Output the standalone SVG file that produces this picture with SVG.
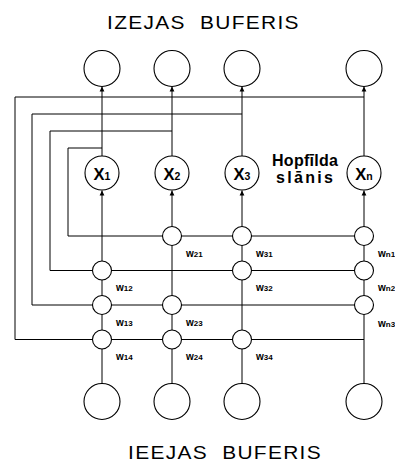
<svg xmlns="http://www.w3.org/2000/svg" width="395" height="462" viewBox="0 0 395 462">
<style>
.ln{fill:none;stroke:#000;stroke-width:1}
.nd{fill:#fff;stroke:#000;stroke-width:1.1}
.title{font-family:"Liberation Sans",Arial,sans-serif;font-size:19px;letter-spacing:1.2px;fill:#000}
.xl{font-family:"Liberation Sans",Arial,sans-serif;font-weight:bold;font-size:16.5px;fill:#000}
.xs{font-size:10.5px}
.wl{font-family:"Liberation Sans",Arial,sans-serif;font-weight:bold;font-size:10px;fill:#000}
.ws{font-size:8px}
.hl{font-family:"Liberation Sans",Arial,sans-serif;font-weight:bold;font-size:16px;fill:#000}
</style>
<defs>
<marker id="arr" markerUnits="userSpaceOnUse" markerWidth="6" markerHeight="6" refX="5" refY="3" orient="auto">
<path d="M0,0.6 L5,3 L0,5.4 Z" fill="#000"/>
</marker>
</defs>
<rect width="395" height="462" fill="#fff"/>
<text class="title" transform="translate(107,29) scale(1.1,1)" x="0" y="0" xml:space="preserve">IZEJAS  BUFERIS</text>
<text class="title" transform="translate(128,458.5) scale(1.1,1)" x="0" y="0" xml:space="preserve">IEEJAS  BUFERIS</text>

<g id="connectors">
<line class="ln" x1="102" y1="383.5" x2="102" y2="190.5" marker-end="url(#arr)"/>
<line class="ln" x1="102" y1="156" x2="102" y2="86.5" marker-end="url(#arr)"/>
<line class="ln" x1="172" y1="383.5" x2="172" y2="190.5" marker-end="url(#arr)"/>
<line class="ln" x1="172" y1="156" x2="172" y2="86.5" marker-end="url(#arr)"/>
<line class="ln" x1="242" y1="383.5" x2="242" y2="190.5" marker-end="url(#arr)"/>
<line class="ln" x1="242" y1="156" x2="242" y2="86.5" marker-end="url(#arr)"/>
<line class="ln" x1="364" y1="383.5" x2="364" y2="190.5" marker-end="url(#arr)"/>
<line class="ln" x1="364" y1="156" x2="364" y2="86.5" marker-end="url(#arr)"/>
<polyline class="ln" points="102,148 68,148 68,236 364,236"/>
<polyline class="ln" points="172,131 50,131 50,270.5 364,270.5"/>
<polyline class="ln" points="242,114 32,114 32,305 364,305"/>
<polyline class="ln" points="364,97 15,97 15,339.5 364,339.5"/>
</g>

<g id="out1"><circle class="nd" cx="102" cy="68.5" r="18"/></g>
<g id="out2"><circle class="nd" cx="172" cy="68.5" r="18"/></g>
<g id="out3"><circle class="nd" cx="242" cy="68.5" r="18"/></g>
<g id="outn"><circle class="nd" cx="364" cy="68.5" r="18"/></g>

<g id="in1"><circle class="nd" cx="102" cy="401.5" r="18"/></g>
<g id="in2"><circle class="nd" cx="172" cy="401.5" r="18"/></g>
<g id="in3"><circle class="nd" cx="242" cy="401.5" r="18"/></g>
<g id="inn"><circle class="nd" cx="364" cy="401.5" r="18"/></g>

<g id="x1"><circle class="nd" cx="102" cy="173" r="17"/><text class="xl" x="102" y="179.5" text-anchor="middle">X<tspan class="xs">1</tspan></text></g>
<g id="x2"><circle class="nd" cx="172" cy="173" r="17"/><text class="xl" x="172" y="179.5" text-anchor="middle">X<tspan class="xs">2</tspan></text></g>
<g id="x3"><circle class="nd" cx="242" cy="173" r="17"/><text class="xl" x="242" y="179.5" text-anchor="middle">X<tspan class="xs">3</tspan></text></g>
<g id="xn"><circle class="nd" cx="364" cy="173" r="17"/><text class="xl" x="364" y="179.5" text-anchor="middle">X<tspan class="xs">n</tspan></text></g>

<g id="hopfield-label">
<text class="hl" x="272" y="166" textLength="66" lengthAdjust="spacing">Hopfīlda</text>
<text class="hl" x="276" y="183" textLength="57" lengthAdjust="spacing">slānis</text>
</g>

<g id="w21"><circle class="nd" cx="172" cy="236" r="9.5"/><text class="wl" x="186" y="256.5">w<tspan class="ws">21</tspan></text></g>
<g id="w31"><circle class="nd" cx="242" cy="236" r="9.5"/><text class="wl" x="256" y="256.5">w<tspan class="ws">31</tspan></text></g>
<g id="wn1"><circle class="nd" cx="364" cy="236" r="9.5"/><text class="wl" x="378" y="256.5">w<tspan class="ws">n1</tspan></text></g>

<g id="w12"><circle class="nd" cx="102" cy="270.5" r="9.5"/><text class="wl" x="116" y="291">w<tspan class="ws">12</tspan></text></g>
<g id="w32"><circle class="nd" cx="242" cy="270.5" r="9.5"/><text class="wl" x="256" y="291">w<tspan class="ws">32</tspan></text></g>
<g id="wn2"><circle class="nd" cx="364" cy="270.5" r="9.5"/><text class="wl" x="378" y="291">w<tspan class="ws">n2</tspan></text></g>

<g id="w13"><circle class="nd" cx="102" cy="305" r="9.5"/><text class="wl" x="116" y="325.5">w<tspan class="ws">13</tspan></text></g>
<g id="w23"><circle class="nd" cx="172" cy="305" r="9.5"/><text class="wl" x="186" y="325.5">w<tspan class="ws">23</tspan></text></g>
<g id="wn3"><circle class="nd" cx="364" cy="305" r="9.5"/><text class="wl" x="378" y="327">w<tspan class="ws">n3</tspan></text></g>

<g id="w14"><circle class="nd" cx="102" cy="339.5" r="9.5"/><text class="wl" x="116" y="360">w<tspan class="ws">14</tspan></text></g>
<g id="w24"><circle class="nd" cx="172" cy="339.5" r="9.5"/><text class="wl" x="186" y="360">w<tspan class="ws">24</tspan></text></g>
<g id="w34"><circle class="nd" cx="242" cy="339.5" r="9.5"/><text class="wl" x="256" y="360">w<tspan class="ws">34</tspan></text></g>
</svg>
